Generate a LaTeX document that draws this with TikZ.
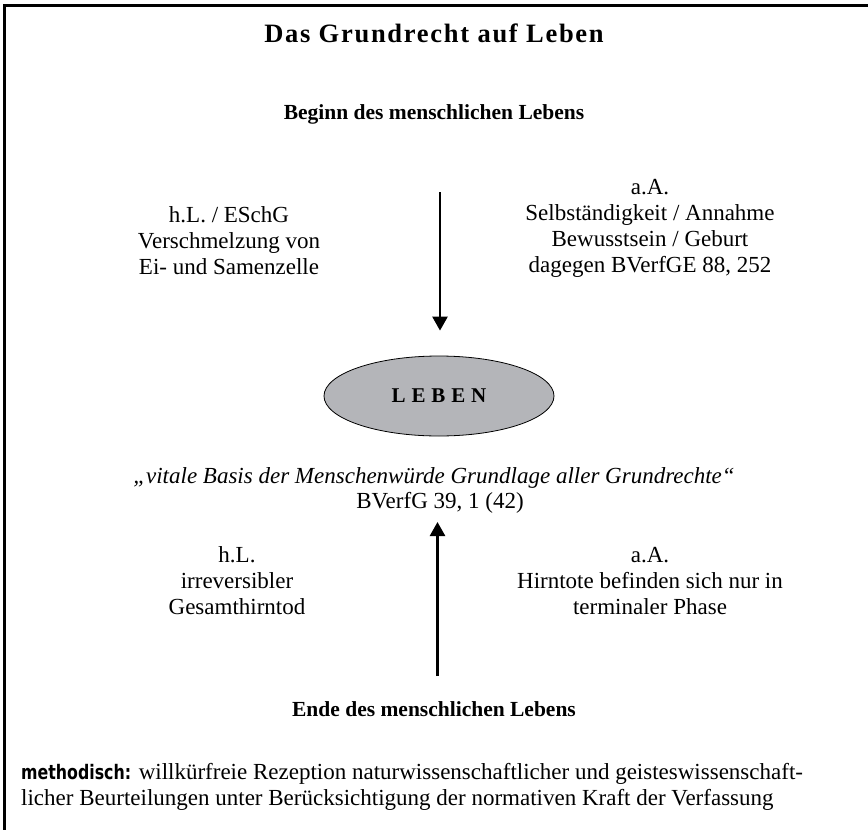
\documentclass[tikz,border=0pt]{standalone}
\usepackage{fontspec}
\setmainfont{Liberation Serif}
\newfontfamily\headfont[LetterSpace=6.5]{Liberation Serif}
\newfontfamily\lebenfont[LetterSpace=28]{Liberation Serif}
\newfontfamily\methfont[FakeStretch=0.79]{DejaVu Sans}
\usetikzlibrary{arrows.meta,shapes.geometric}
\definecolor{lebengray}{RGB}{180,181,185}
\begin{document}
\begin{tikzpicture}[x=1pt,y=-1pt,
  txt/.style={font=\fontsize{23}{26}\selectfont, align=center, inner sep=0pt},
  head/.style={font=\fontsize{21.5}{26}\selectfont\bfseries, inner sep=0pt},
  arr/.style={line width=2.5pt, -{Triangle[width=15pt,length=14pt]}},
  frame/.style={line width=3pt}]
\useasboundingbox (0,0) rectangle (868,830);
\draw[frame] (4.5,830) -- (4.5,5.5) -- (868,5.5);
\node[font=\fontsize{26.5}{30}\selectfont\headfont\bfseries, inner sep=0pt] (title) at (434,33) {Das Grundrecht auf Leben};
\node[head] (beginn) at (434,114) {Beginn des menschlichen Lebens};
\node[txt] (hl1) at (229,241) {h.L. / ESchG\\Verschmelzung von\\Ei- und Samenzelle};
\node[txt] (aa1) at (650,228) {a.A.\\Selbständigkeit / Annahme\\Bewusstsein / Geburt\\dagegen BVerfGE 88, 252};
\node[ellipse, draw, line width=0.8pt, fill=lebengray, minimum width=230pt, minimum height=80pt, inner sep=0pt] (leben) at (439,396) {\fontsize{21}{24}\selectfont\lebenfont\bfseries LEBEN};
\node[txt, font=\fontsize{23}{26}\selectfont\itshape] (quote) at (434,478) {„vitale Basis der Menschenwürde Grundlage aller Grundrechte“};
\node[txt] (bverfg) at (440,503) {BVerfG 39, 1 (42)};
\node[txt] (hl2) at (237,581) {h.L.\\irreversibler\\Gesamthirntod};
\node[txt] (aa2) at (650,581) {a.A.\\Hirntote befinden sich nur in\\terminaler Phase};
\node[head] (ende) at (434,709) {Ende des menschlichen Lebens};
\node[txt, anchor=west, align=left] (meth) at (21,787) {{\methfont\bfseries\fontsize{20}{26}\selectfont methodisch:} willkürfreie Rezeption naturwissenschaftlicher und geisteswissenschaft-\\licher Beurteilungen unter Berücksichtigung der normativen Kraft der Verfassung};
\coordinate (a1s) at (440,192);
\draw[arr, shorten >=25pt] (a1s) -- (leben.north -| a1s);
\coordinate (a2s) at (437.5,676);
\coordinate (a2e) at (437.5,522);
\draw[arr] (a2s) -- (a2e);
\end{tikzpicture}
\end{document}
